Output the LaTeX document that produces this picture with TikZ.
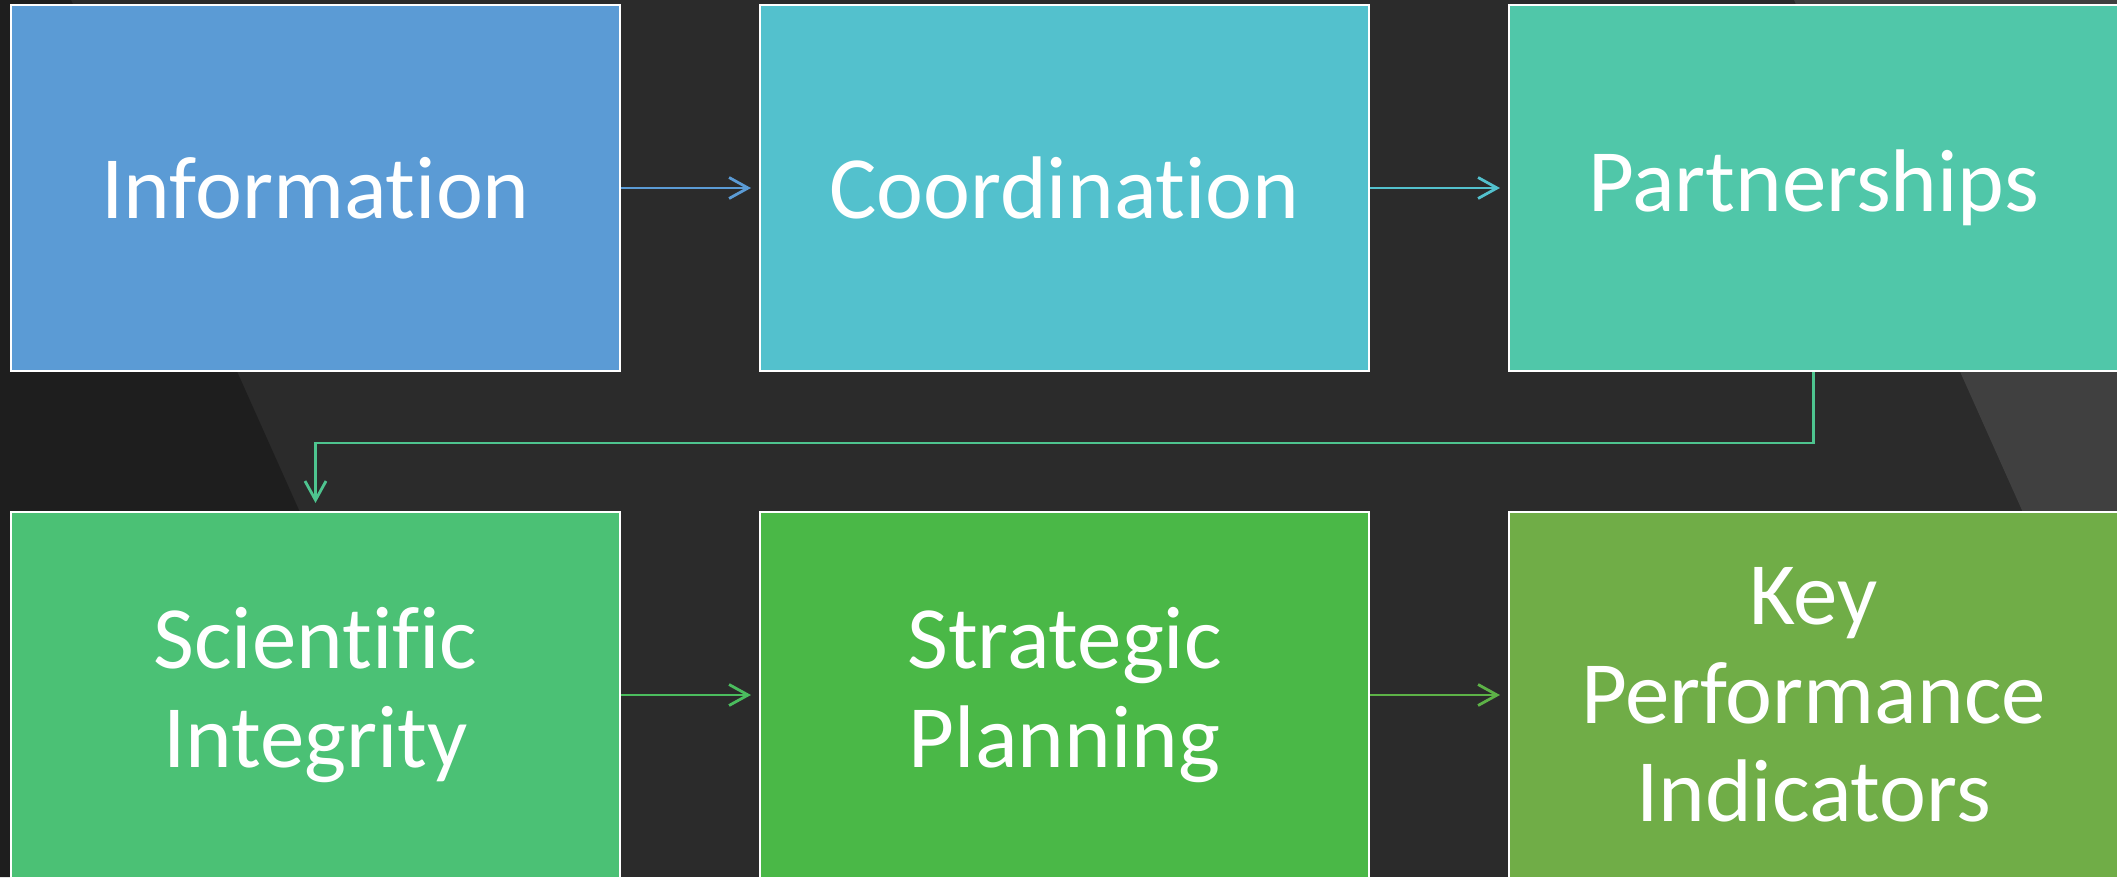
\documentclass[tikz,border=0pt]{standalone}
\usepackage{fontspec}
\setmainfont[Ligatures=NoCommon]{Carlito}
\usetikzlibrary{arrows.meta}

\definecolor{bgmid}{HTML}{2B2B2B}
\definecolor{bgdark}{HTML}{1E1E1E}
\definecolor{bglight}{HTML}{404040}
\definecolor{cinfo}{HTML}{5B9BD5}
\definecolor{ccoord}{HTML}{53C1CD}
\definecolor{cpart}{HTML}{50C7A9}
\definecolor{csci}{HTML}{4BC175}
\definecolor{cstrat}{HTML}{4AB847}
\definecolor{ckpi}{HTML}{70AD47}
\definecolor{cbend}{HTML}{4EC48F}
\definecolor{csci2}{HTML}{4BBD5E}
\definecolor{cstrat2}{HTML}{5DB247}

\tikzset{
  stage/.style={draw=white, line width=0.6pt, minimum width=6.09cm, minimum height=3.66cm,
    inner sep=0pt, align=center, text=white, font=\fontsize{25.3}{28}\selectfont},
  flow/.style={-{Straight Barb[length=0.19cm,width=0.21cm]}, line width=0.8pt, shorten >=0.08cm}
}

\begin{document}
\begin{tikzpicture}
    \useasboundingbox (0,0) rectangle (21.17,8.77);
    \clip (0,0) rectangle (21.17,8.77);

    % background
    \fill [bgmid] (0,0) rectangle (21.17,8.77);
    \fill [bgdark] (0,0) -- (0,8.77) -- (0.71,8.77) -- (4.63,0) -- cycle;
    \fill [bglight] (17.94,8.77) -- (21.17,8.77) -- (21.17,1.54) -- cycle;

    % top row
    \node [stage, fill=cinfo] (info) at (3.155,6.89) {Information};
    \node [stage, fill=ccoord] (coord) at (10.645,6.89) {Coordination};
    \node [stage, fill=cpart] (part) at (18.135,6.89) {Partnerships};

    % bottom row
    \node [stage, fill=csci] (sci) at (3.155,1.82) {Scientific\\Integrity};
    \node [stage, fill=cstrat] (strat) at (10.645,1.82) {Strategic\\Planning};
    \node [stage, fill=ckpi] (kpi) at (18.135,1.82) {Key\\Performance\\Indicators};

    % arrows
    \draw [flow, cinfo] (info) -- (coord);
    \draw [flow, ccoord] (coord) -- (part);
    \draw [flow, cbend] (part.south) -- ++(0,-0.71) -| (sci.north);
    \draw [flow, csci2] (sci) -- (strat);
    \draw [flow, cstrat2] (strat) -- (kpi);
\end{tikzpicture}
\end{document}
